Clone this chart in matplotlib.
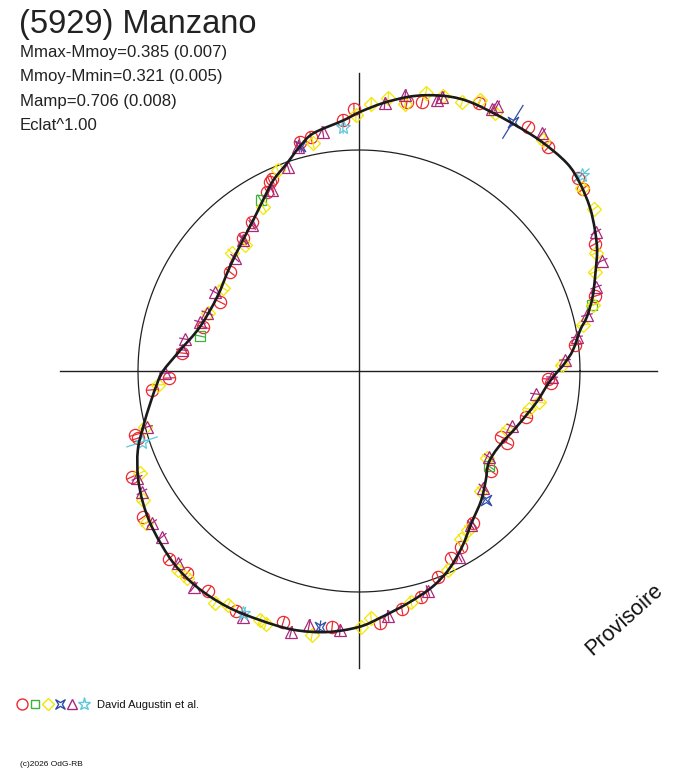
import numpy as np
import matplotlib
matplotlib.use("Agg")
import matplotlib.pyplot as plt
from matplotlib.path import Path
from matplotlib.patches import PathPatch
from matplotlib.collections import LineCollection

plt.rcParams['font.family'] = ['Liberation Sans', 'DejaVu Sans']

TITLE = "(5929) Manzano"
STATS = ["Mmax-Mmoy=0.385 (0.007)", "Mmoy-Mmin=0.321 (0.005)",
         "Mamp=0.706 (0.008)", "Eclat^1.00"]
OBSERVER = "David Augustin et al."
COPYRIGHT = "(c)2026 OdG-RB"
WATERMARK = "Provisoire"

# fitted lightcurve: phase angle (deg, clockwise from top) and relative radius
curve_phase = [0.2, 5.1, 9.9, 13.8, 18.4, 23.0, 30.5, 38.1, 45.0, 49.6, 54.6, 59.1,
               63.1, 67.5, 72.4, 76.7, 79.5, 84.4, 87.8, 89.7, 93.6, 100.2, 109.6,
               118.5, 125.3, 130.6, 136.6, 143.4, 149.7, 155.7, 161.3, 167.8, 174.7,
               180.0, 187.0, 194.3, 201.7, 209.2, 216.9, 224.1, 232.3, 238.6, 244.4,
               250.3, 255.5, 261.3, 266.6, 270.0, 276.7, 285.5, 297.5, 308.9, 318.5,
               324.9, 330.7, 335.8, 340.9, 345.2, 349.1, 356.4]
curve_radius = [1.172, 1.217, 1.258, 1.285, 1.308, 1.317, 1.317, 1.326, 1.330, 1.312,
                1.281, 1.244, 1.208, 1.158, 1.109, 1.059, 1.018, 0.973, 0.932, 0.905,
                0.860, 0.814, 0.756, 0.719, 0.719, 0.756, 0.805, 0.855, 0.923, 0.986,
                1.032, 1.072, 1.118, 1.158, 1.190, 1.208, 1.213, 1.222, 1.222, 1.208,
                1.176, 1.145, 1.109, 1.063, 1.009, 0.955, 0.914, 0.887, 0.814, 0.747,
                0.724, 0.751, 0.792, 0.833, 0.887, 0.946, 0.995, 1.050, 1.095, 1.136]

# observations per session
red_phase = [335.6, 345.6, 348.4, 356.4, 358.9, 10.1, 13.2, 24.1, 34.7, 40.2, 48.6, 50.9,
             61.7, 72.4, 83.1, 92.4, 93.6, 105.4, 114.9, 115.9, 127.1, 143.1, 149.9,
             153.8, 159.0, 164.7, 169.8, 175.2, 186.0, 196.8, 207.1, 214.5, 220.4,
             225.3, 235.9, 245.0, 254.1, 253.1, 264.8, 267.9, 275.8, 285.8, 296.4,
             307.5, 318.9, 324.3, 334.8, 332.8]
red_radius = [0.954, 1.070, 1.081, 1.138, 1.186, 1.236, 1.250, 1.328, 1.343, 1.326, 1.321,
              1.306, 1.213, 1.120, 0.985, 0.856, 0.871, 0.784, 0.709, 0.745, 0.749, 0.860,
              0.920, 0.943, 0.998, 1.060, 1.094, 1.144, 1.165, 1.187, 1.220, 1.207, 1.200,
              1.209, 1.180, 1.134, 1.054, 1.045, 0.941, 0.860, 0.805, 0.733, 0.702, 0.736,
              0.799, 0.830, 0.945, 0.911]

green_phase = [74.2, 126.2, 282.4, 330.1]
green_radius = [1.096, 0.729, 0.737, 0.894]

yellow_phase = [338.0, 348.6, 359.3, 2.6, 6.1, 9.8, 13.5, 17.0, 21.0, 24.1, 27.8, 38.5,
                50.6, 55.4, 63.5, 67.2, 74.2, 78.4, 88.3, 99.8, 102.6, 111.7, 124.2, 134.5,
                145.6, 148.7, 155.9, 167.3, 177.2, 179.6, 190.1, 201.7, 200.2, 209.2,
                211.8, 219.7, 222.3, 234.5, 239.2, 245.0, 255.3, 266.0, 291.0, 301.4,
                312.9, 317.9, 329.7]
yellow_radius = [0.981, 1.052, 1.158, 1.209, 1.242, 1.226, 1.294, 1.301, 1.303, 1.343,
                 1.320, 1.336, 1.305, 1.291, 1.198, 1.158, 1.100, 1.035, 0.919, 0.827,
                 0.788, 0.721, 0.700, 0.774, 0.872, 0.889, 0.986, 1.071, 1.119, 1.158,
                 1.213, 1.213, 1.220, 1.213, 1.236, 1.218, 1.217, 1.184, 1.138, 1.093,
                 1.001, 0.912, 0.732, 0.721, 0.785, 0.769, 0.860]

blue_phase = [345.3, 31.7, 135.4, 188.7]
blue_radius = [1.052, 1.325, 0.819, 1.172]
blue_err = [0.030, 0.090, 0.030, 0.030]

purple_phase = [340.8, 344.8, 351.4, 5.5, 9.5, 16.1, 16.9, 27.5, 26.9, 37.6, 59.6, 65.6,
                70.5, 76.2, 81.1, 86.9, 91.8, 97.4, 109.8, 123.5, 133.3, 144.0, 151.7,
                162.6, 173.2, 184.2, 191.1, 194.6, 205.2, 217.4, 223.3, 229.9, 233.7,
                240.9, 244.3, 255.2, 269.4, 276.8, 280.4, 287.1, 290.9, 298.7, 312.3,
                318.5, 323.8, 334.3]
purple_radius = [0.977, 1.051, 1.094, 1.218, 1.266, 1.276, 1.295, 1.352, 1.329, 1.358,
                 1.243, 1.207, 1.138, 1.062, 0.998, 0.933, 0.874, 0.808, 0.736, 0.705,
                 0.771, 0.862, 0.956, 1.043, 1.116, 1.175, 1.171, 1.220, 1.231, 1.230,
                 1.194, 1.166, 1.162, 1.124, 1.115, 0.992, 0.878, 0.806, 0.800, 0.753,
                 0.736, 0.743, 0.759, 0.792, 0.819, 0.909]

cyan_phase = [356.2, 48.7, 251.9, 205.6]
cyan_radius = [1.106, 1.343, 1.033, 1.214]
cyan_err = [0.030, 0.045, 0.075, 0.030]

default_err = 0.027

W, H = 688, 768
fig = plt.figure(figsize=(W / 100, H / 100), dpi=100)
ax = fig.add_axes([0, 0, 1, 1])
cx, cy, R = 359.0, 371.0, 221.0
ax.set_xlim(-cx / R, (W - cx) / R)
ax.set_ylim((cy - H) / R, cy / R)
ax.axis('off')


def to_xy(phase, radius):
    t = np.radians(np.asarray(phase, float))
    r = np.asarray(radius, float)
    return r * np.sin(t), r * np.cos(t)

# axes cross and reference circle
ax.plot([0, 0], [-1.344, 1.348], color='#202020', lw=1.0, zorder=1)
ax.plot([-1.353, 1.348], [0, 0], color='#202020', lw=1.0, zorder=1)
tt = np.linspace(0, 2 * np.pi, 721)
ax.plot(np.cos(tt), np.sin(tt), color='#202020', lw=0.9, zorder=1)

# custom four-pointed marker
bow = Path([(1, 1), (0, 0.4), (-1, 1), (-0.4, 0), (-1, -1), (0, -0.4), (1, -1), (0.4, 0), (1, 1)],
           [Path.MOVETO] + [Path.LINETO] * 7 + [Path.CLOSEPOLY])

series = [
    (red_phase, red_radius, None, 'o', '#ec2a30', 8.8),
    (green_phase, green_radius, None, 's', '#3cb43c', 6.5),
    (yellow_phase, yellow_radius, None, 'D', '#f2e600', 7.0),
    (blue_phase, blue_radius, blue_err, bow, '#2c4ca8', 7.5),
    (purple_phase, purple_radius, None, '^', '#a8287c', 8.6),
    (cyan_phase, cyan_radius, cyan_err, '*', '#5cc8dc', 10.5),
]

for ph, rr, err, mk, col, ms in series:
    e = np.full(len(ph), default_err) if err is None else np.asarray(err)
    x0, y0 = to_xy(ph, np.asarray(rr) - e)
    x1, y1 = to_xy(ph, np.asarray(rr) + e)
    segs = np.stack([np.column_stack([x0, y0]), np.column_stack([x1, y1])], axis=1)
    ax.add_collection(LineCollection(segs, colors=col, linewidths=0.9, zorder=2))
    x, y = to_xy(ph, rr)
    ax.plot(x, y, ls='none', marker=mk, ms=ms, mfc='none', mec=col, mew=0.9, zorder=2)

# fitted curve drawn as a smooth closed Catmull-Rom path through the read points
xc, yc = to_xy(curve_phase, curve_radius)
P = np.column_stack([xc, yc])
n = len(P)
verts = [P[0]]
codes = [Path.MOVETO]
for i in range(n):
    p0, p1, p2, p3 = P[i - 1], P[i], P[(i + 1) % n], P[(i + 2) % n]
    verts += [p1 + (p2 - p0) / 6.0, p2 - (p3 - p1) / 6.0, p2]
    codes += [Path.CURVE4] * 3
ax.add_patch(PathPatch(Path(verts, codes), fill=False, edgecolor='#1a1a1a', lw=1.9,
                       zorder=3))

# texts
def fx(px):
    return px / W

def fy(py):
    return 1 - py / H

fig.text(fx(19), fy(33), TITLE, fontsize=23.5, color='#222222', va='baseline')
for i, s in enumerate(STATS):
    fig.text(fx(20), fy(57 + 24.4 * i), s, fontsize=12.1, color='#222222', va='baseline')

fig.text(fx(624), fy(620), WATERMARK, fontsize=15.6, color='#111111', rotation=42,
         ha='center', va='center', rotation_mode='anchor')

# legend row
leg_ax = fig.add_axes([0, 0, 1, 1], facecolor='none')
leg_ax.set_xlim(0, W)
leg_ax.set_ylim(H, 0)
leg_ax.axis('off')
leg_x = [22, 35, 48, 60, 72, 84]
for (ph, rr, err, mk, col, ms), lx in zip(series, leg_x):
    leg_ax.plot([lx], [704], ls='none', marker=mk, ms=ms * 0.9, mfc='none', mec=col, mew=1.0)
fig.text(fx(97), fy(708), OBSERVER, fontsize=8.0, color='#111111', va='baseline')
fig.text(fx(20), fy(766), COPYRIGHT, fontsize=6.0, color='#111111', va='baseline')

fig.savefig('out.png', dpi=100, facecolor='white')
